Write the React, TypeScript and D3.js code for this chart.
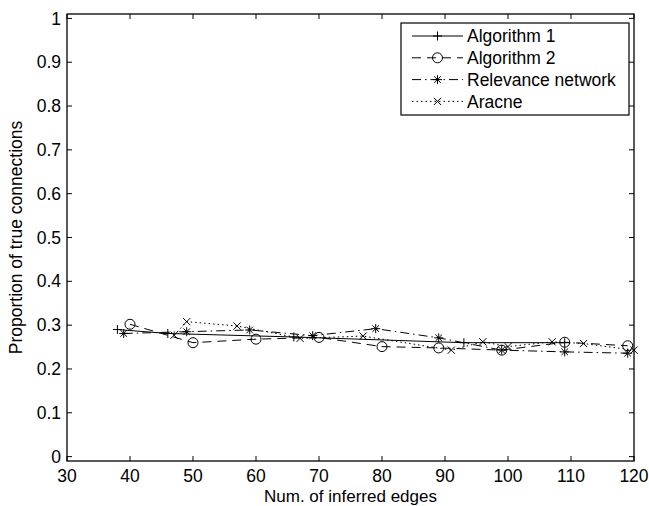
import React from "react";
import * as d3 from "d3";

// Number of inferred edges and proportion of true connections per method
const alg1Edges = [38, 46, 66, 93, 109];
const alg1Prop = [0.29, 0.281, 0.273, 0.26, 0.26];

const alg2Edges = [40, 50, 60, 70, 80, 89, 99, 109, 119];
const alg2Prop = [0.302, 0.26, 0.268, 0.272, 0.251, 0.248, 0.243, 0.261, 0.253];

const relEdges = [39, 49, 59, 69, 79, 89, 99, 109, 119];
const relProp = [0.281, 0.285, 0.289, 0.276, 0.292, 0.271, 0.243, 0.239, 0.236];

const aracneEdges = [47, 49, 57, 67, 77, 91, 96, 100, 107, 112, 120];
const aracneProp = [0.277, 0.308, 0.298, 0.27, 0.275, 0.243, 0.262, 0.251, 0.262, 0.258, 0.243];

const xTicks = [30, 40, 50, 60, 70, 80, 90, 100, 110, 120];
const yTicks = [0, 0.1, 0.2, 0.3, 0.4, 0.5, 0.6, 0.7, 0.8, 0.9, 1];

const seriesNames = ["Algorithm 1", "Algorithm 2", "Relevance network", "Aracne"];

type Marker = "plus" | "circle" | "star" | "cross";

const markerPath = (m: Marker, cx: number, cy: number): string => {
  const r = 4.5;
  if (m === "plus") return `M${cx - r},${cy}H${cx + r}M${cx},${cy - r}V${cy + r}`;
  if (m === "cross") {
    const c = 3.6;
    return `M${cx - c},${cy - c}L${cx + c},${cy + c}M${cx - c},${cy + c}L${cx + c},${cy - c}`;
  }
  if (m === "star") {
    const c = 3.3;
    return (
      `M${cx - r},${cy}H${cx + r}M${cx},${cy - r}V${cy + r}` +
      `M${cx - c},${cy - c}L${cx + c},${cy + c}M${cx - c},${cy + c}L${cx + c},${cy - c}`
    );
  }
  return "";
};

const FONT = "'Liberation Sans', Arial, Helvetica, sans-serif";
const FS = 17.5;

export default function App() {
  const width = 649;
  const height = 506;
  const left = 67;
  const right = 634;
  const top = 14;
  const bottom = 461;

  const x = d3.scaleLinear().domain([30, 120]).range([left, right]);
  const y = d3.scaleLinear().domain([-0.01, 1.01]).range([bottom, top]);

  const series = [
    { name: seriesNames[0], xs: alg1Edges, ys: alg1Prop, dash: "none", marker: "plus" as Marker },
    { name: seriesNames[1], xs: alg2Edges, ys: alg2Prop, dash: "9,6", marker: "circle" as Marker },
    { name: seriesNames[2], xs: relEdges, ys: relProp, dash: "9,4,1.5,4", marker: "star" as Marker },
    { name: seriesNames[3], xs: aracneEdges, ys: aracneProp, dash: "1.5,3", marker: "cross" as Marker },
  ];

  const line = d3
    .line<[number, number]>()
    .x((d) => x(d[0]))
    .y((d) => y(d[1]));

  const tickLen = 5;

  const legend = { x0: 401, y0: 23, x1: 629, y1: 115, lineX0: 412, lineX1: 463, textX: 467, rowY: 36, rowStep: 21.8 };

  const drawMarker = (m: Marker, cx: number, cy: number, key: string | number) =>
    m === "circle" ? (
      <circle key={key} cx={cx} cy={cy} r={5} fill="none" stroke="#000" strokeWidth={1} />
    ) : (
      <path key={key} d={markerPath(m, cx, cy)} fill="none" stroke="#000" strokeWidth={1} />
    );

  return (
    <svg width={width} height={height} style={{ position: "absolute", left: 0, top: 0, background: "#fff" }} fontFamily={FONT}>
      <rect x={0} y={0} width={width} height={height} fill="#fff" />

      {/* data lines */}
      {series.map((s, i) => (
        <g key={i}>
          <path
            d={line(s.xs.map((v, j) => [v, s.ys[j]] as [number, number])) || ""}
            fill="none"
            stroke="#000"
            strokeWidth={1}
            strokeDasharray={s.dash}
          />
          {s.xs.map((v, j) => drawMarker(s.marker, x(v), y(s.ys[j]), j))}
        </g>
      ))}

      {/* ticks on all four sides */}
      {xTicks.map((t) => (
        <g key={"xt" + t}>
          <line x1={x(t)} x2={x(t)} y1={bottom} y2={bottom - tickLen} stroke="#000" strokeWidth={1} />
          <line x1={x(t)} x2={x(t)} y1={top} y2={top + tickLen} stroke="#000" strokeWidth={1} />
          <text x={x(t)} y={481.5} textAnchor="middle" fontSize={FS}>
            {t}
          </text>
        </g>
      ))}
      {yTicks.map((t) => (
        <g key={"yt" + t}>
          <line x1={left} x2={left + tickLen} y1={y(t)} y2={y(t)} stroke="#000" strokeWidth={1} />
          <line x1={right} x2={right - tickLen} y1={y(t)} y2={y(t)} stroke="#000" strokeWidth={1} />
          <text x={61} y={y(t)} dy="0.35em" textAnchor="end" fontSize={FS}>
            {d3.format("~g")(t)}
          </text>
        </g>
      ))}

      {/* axes box */}
      <rect x={left} y={top} width={right - left} height={bottom - top} fill="none" stroke="#000" strokeWidth={1.3} />

      {/* axis titles */}
      <text x={(left + right) / 2} y={502} textAnchor="middle" fontSize={17}>
        Num. of inferred edges
      </text>
      <text
        transform={`translate(22,${(top + bottom) / 2}) rotate(-90)`}
        textAnchor="middle"
        fontSize={FS}
      >
        Proportion of true connections
      </text>

      {/* legend */}
      <rect
        x={legend.x0}
        y={legend.y0}
        width={legend.x1 - legend.x0}
        height={legend.y1 - legend.y0}
        fill="#fff"
        stroke="#000"
        strokeWidth={1.2}
      />
      {series.map((s, i) => {
        const ry = legend.rowY + i * legend.rowStep;
        return (
          <g key={"lg" + i}>
            <line
              x1={legend.lineX0}
              x2={legend.lineX1}
              y1={ry}
              y2={ry}
              stroke="#000"
              strokeWidth={1}
              strokeDasharray={s.dash}
            />
            {drawMarker(s.marker, (legend.lineX0 + legend.lineX1) / 2, ry, "m")}
            <text x={legend.textX} y={ry} dy="0.35em" fontSize={FS}>
              {s.name}
            </text>
          </g>
        );
      })}
    </svg>
  );
}
